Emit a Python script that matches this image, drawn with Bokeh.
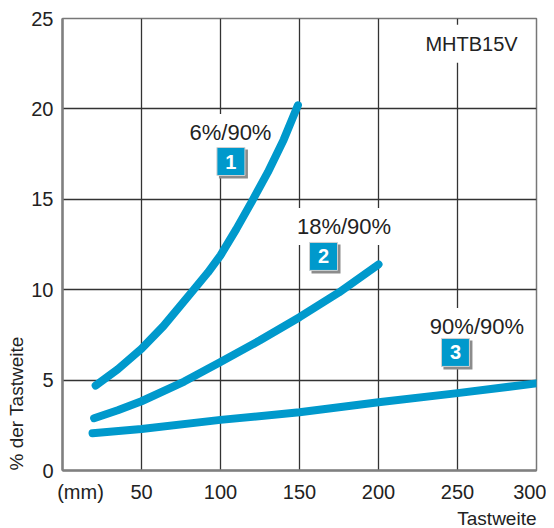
from bokeh.plotting import figure
from bokeh.models import Range1d, FixedTicker, Label, Title
from bokeh.core.properties import value
from bokeh.embed import file_html
from bokeh.resources import INLINE

# ---- data ----
c1_x = [21, 35, 50, 64, 83, 92, 100, 110, 120, 130, 140, 149]
c1_y = [4.7, 5.6, 6.73, 8.0, 10.0, 10.95, 11.9, 13.35, 14.9, 16.5, 18.3, 20.2]
c2_x = [20, 35, 50, 77, 100, 125, 150, 175, 200]
c2_y = [2.89, 3.33, 3.83, 4.92, 6.0, 7.2, 8.48, 9.85, 11.4]
c3_x = [19, 50, 100, 150, 200, 250, 300]
c3_y = [2.06, 2.3, 2.8, 3.22, 3.78, 4.28, 4.82]

curve_labels = ["6%/90%", "18%/90%", "90%/90%"]
label_x = [106.3, 178.2, 262.3]
label_y = [18.7, 13.5, 7.96]
box_nums = ["1", "2", "3"]
box_x = [106.6, 165.2, 248.7]
box_y = [17.09, 11.84, 6.53]

x_ticks = [50, 100, 150, 200, 250, 300]
y_ticks = [0, 5, 10, 15, 20, 25]
unit_tick = 11.4
unit_text = "(mm)"

FONT = "Liberation Sans"
BLUE = "#0099cc"
TXT = "#222222"

p = figure(width=546, height=528, output_backend="svg", toolbar_location=None,
           x_range=Range1d(0, 300), y_range=Range1d(0, 25),
           min_border_left=62, min_border_right=10, min_border_top=18, min_border_bottom=58)
p.background_fill_color = "white"
p.border_fill_color = "white"
p.outline_line_color = "#777777"
p.outline_line_width = 1.5

for ax in (p.xaxis[0], p.yaxis[0]):
    ax.axis_line_color = "#808080"
    ax.axis_line_width = 2.5
    ax.major_tick_line_color = None
    ax.minor_tick_line_color = None
    ax.major_label_text_font = FONT
    ax.major_label_text_font_size = "20px"
    ax.major_label_text_color = TXT
    ax.major_tick_out = 0
    ax.major_tick_in = 0
p.xaxis[0].ticker = FixedTicker(ticks=[unit_tick] + x_ticks)
p.xaxis[0].major_label_overrides = {unit_tick: unit_text}
p.yaxis[0].ticker = FixedTicker(ticks=y_ticks)
p.xaxis[0].major_label_standoff = 10
p.yaxis[0].major_label_standoff = 9

p.xgrid[0].ticker = FixedTicker(ticks=x_ticks[:-1])
p.ygrid[0].ticker = FixedTicker(ticks=y_ticks[1:-1])
for g in (p.xgrid[0], p.ygrid[0]):
    g.grid_line_color = "#333333"
    g.grid_line_width = 1.3

# curve labels with white background (under the curves, over the grid)
for t, x, y in zip(curve_labels, label_x, label_y):
    p.add_layout(Label(x=x, y=y, text=t, text_align="center", text_baseline="middle",
                       text_font=FONT, text_font_size="22px", text_color=TXT,
                       background_fill_color="white", padding=6, level="underlay"))

p.add_layout(Label(x=258.9, y=23.6, text="MHTB15V", text_align="center", text_baseline="middle",
                   text_font=FONT, text_font_size="20px", text_color=TXT,
                   background_fill_color="white", padding=8, level="underlay"))

# curves
for xs, ys in ((c1_x, c1_y), (c2_x, c2_y), (c3_x, c3_y)):
    p.line(xs, ys, line_color=BLUE, line_width=8, line_cap="round", line_join="round")

# numbered boxes with shadow
px_x = 300 / 474.0
px_y = 25 / 452.0
sx = [v + 2.5 * px_x for v in box_x]
sy = [v - 2.5 * px_y for v in box_y]
p.rect(sx, sy, width=29, height=29, width_units="screen", height_units="screen",
       fill_color="#8c8c8c", line_color=None)
p.rect(box_x, box_y, width=28, height=28, width_units="screen", height_units="screen",
       fill_color=BLUE, line_color="#d0d0d0", line_width=1)
p.text(box_x, box_y, text=box_nums, text_align="center", text_baseline="middle",
       text_color="white", text_font=value(FONT), text_font_style="bold",
       text_font_size="20px")

# axis titles
p.add_layout(Title(text="% der Tastweite", align="left", offset=0, standoff=4,
                   text_font=FONT, text_font_size="19px", text_font_style="normal",
                   text_color=TXT), "left")
p.add_layout(Title(text="Tastweite", align="right", offset=0, standoff=0,
                   text_font=FONT, text_font_size="19px", text_font_style="normal",
                   text_color=TXT), "below")

open("out.html", "w").write(file_html(p, INLINE))
